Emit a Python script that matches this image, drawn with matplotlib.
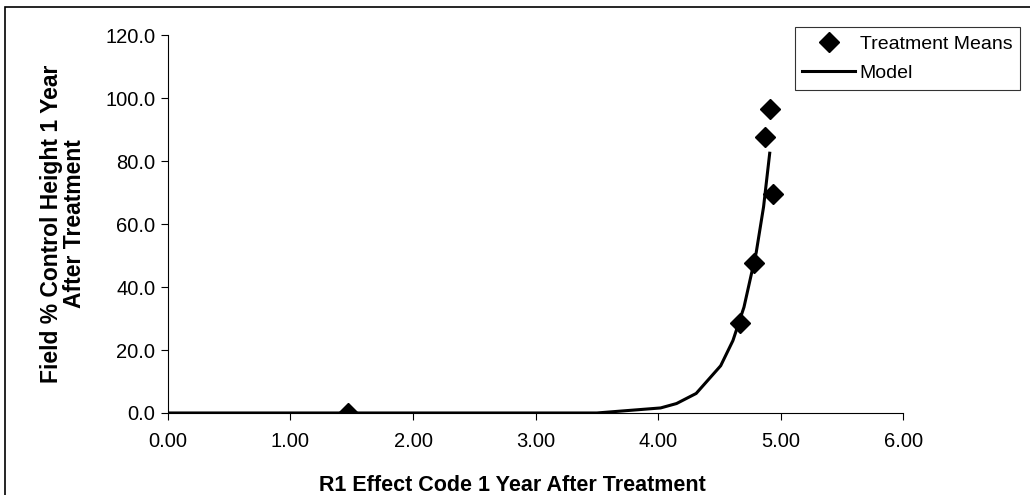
import numpy as np
import matplotlib.pyplot as plt
from matplotlib.patches import Rectangle

plt.rcParams['font.family'] = ['Liberation Sans', 'DejaVu Sans']

# treatment means
mean_x = [1.47, 4.67, 4.78, 4.87, 4.91, 4.94]
mean_y = [0.0, 28.6, 47.6, 87.6, 96.5, 69.5]

# fitted model curve
model_x = [0.0, 1.0, 2.0, 3.0, 3.50, 4.02, 4.15, 4.31, 4.51, 4.61, 4.70, 4.80, 4.86, 4.91]
model_y = [0.0, 0.0, 0.0, 0.0, 0.0, 1.6, 3.0, 6.2, 15.0, 23.0, 33.6, 51.0, 65.5, 82.5]

xticks = [0, 1, 2, 3, 4, 5, 6]
yticks = [0, 20, 40, 60, 80, 100, 120]

fig = plt.figure(figsize=(10.3, 4.95), dpi=100)
ax = fig.add_axes([0.163, 0.1657, 0.714, 0.7633])

ax.plot(model_x, model_y, color='black', lw=2.2, label='Model', zorder=2)
ax.plot(mean_x, mean_y, 'D', color='black', ms=10, ls='none', label='Treatment Means', zorder=3)

ax.set_xlim(0, 6)
ax.set_ylim(0, 120)
ax.set_xticks(xticks)
ax.set_xticklabels(['%.2f' % v for v in xticks])
ax.set_yticks(yticks)
ax.set_yticklabels(['%.1f' % v for v in yticks])
ax.tick_params(labelsize=14.5, length=5, width=0.8, direction='out')
ax.tick_params(axis='x', pad=9)
ax.tick_params(axis='y', pad=4)
ax.spines['top'].set_visible(False)
ax.spines['right'].set_visible(False)
ax.spines['left'].set_linewidth(0.8)
ax.spines['bottom'].set_linewidth(0.8)

ax.set_xlabel('R1 Effect Code 1 Year After Treatment', fontsize=15.5, fontweight='bold')
ax.xaxis.set_label_coords(0.468, -0.163)
ax.set_ylabel('Field % Control Height 1 Year\nAfter Treatment', fontsize=16.5, fontweight='bold',
              labelpad=14, linespacing=1.0)

h, l = ax.get_legend_handles_labels()
leg = ax.legend(h[::-1], l[::-1], loc='upper right', bbox_to_anchor=(1.159, 1.021), fontsize=14,
                frameon=True, fancybox=False, edgecolor='black', handlelength=2.7,
                borderpad=0.4, borderaxespad=0, labelspacing=0.6, handletextpad=0.25)
leg.get_frame().set_linewidth(0.8)

# outer chart border (right and bottom edges fall outside the canvas)
fig.patches.append(Rectangle((0.005, -0.05), 1.2, 1.036, transform=fig.transFigure,
                             fill=False, edgecolor='black', lw=1.2))

fig.savefig('out.png', dpi=100)
